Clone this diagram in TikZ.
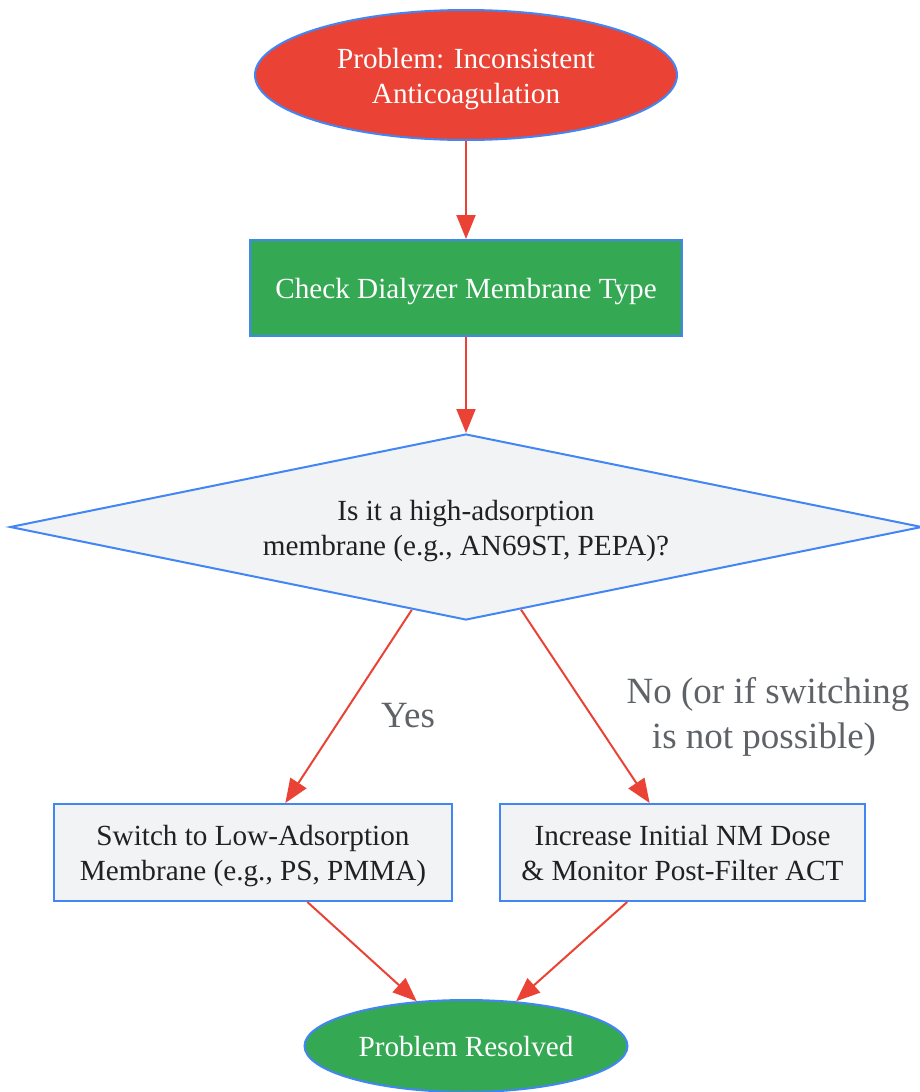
\documentclass[tikz,border=0pt]{standalone}
\usepackage{fontspec}
\setmainfont{Liberation Serif}
\usetikzlibrary{shapes.geometric,arrows.meta}
\definecolor{gred}{HTML}{EA4335}
\definecolor{ggreen}{HTML}{34A853}
\definecolor{gblue}{HTML}{4285F4}
\definecolor{ggray}{HTML}{F1F3F4}
\definecolor{gtext}{HTML}{202124}
\definecolor{glabel}{HTML}{5F6368}
\newcommand{\lowtext}[1]{\raisebox{-3.5pt}[\height][\depth]{\begin{tabular}{@{}c@{}}#1\end{tabular}}}
\begin{document}
\begin{tikzpicture}[x=1pt,y=-1pt,
  base/.style={draw=gblue,line width=2pt,inner sep=0pt,font=\fontsize{29.2}{35}\selectfont},
  startnode/.style={base,ellipse,fill=gred,text=white},
  procnode/.style={base,rectangle,fill=ggreen,text=white},
  decnode/.style={base,diamond,aspect=4.9,fill=ggray,text=gtext},
  actnode/.style={base,rectangle,fill=ggray,text=gtext},
  endnode/.style={base,ellipse,fill=ggreen,text=white},
  arr/.style={draw=gred,line width=2pt,-{Triangle[length=24pt,width=19pt]}},
  lbl/.style={text=glabel,align=center,font=\fontsize{37}{45}\selectfont}]
\useasboundingbox (0,0) rectangle (919,1092);
\node[startnode,minimum width=422pt,minimum height=130pt] (start) at (466,75) {\lowtext{Problem: Inconsistent\\Anticoagulation}};
\node[procnode,minimum width=432pt,minimum height=96pt] (check) at (466,288) {\lowtext{Check Dialyzer Membrane Type}};
\node[decnode,minimum width=912pt,minimum height=186pt] (dec) at (466,527) {\lowtext{Is it a high-adsorption\\membrane (e.g., AN69ST, PEPA)?}};
\node[actnode,minimum width=398pt,minimum height=97pt] (switch) at (253,852.5) {\lowtext{Switch to Low-Adsorption\\Membrane (e.g., PS, PMMA)}};
\node[actnode,minimum width=365pt,minimum height=97pt] (incr) at (682.5,852.5) {\lowtext{Increase Initial NM Dose\\\& Monitor Post-Filter ACT}};
\node[endnode,minimum width=323pt,minimum height=92pt] (res) at (466,1046) {\lowtext{Problem Resolved}};
\node[lbl] (yes) at (408,716) {Yes};
\node[lbl] (no) at (768,717) {No (or if switching\\is not possible)\hspace*{8pt}};
\draw[arr] (start) -- (check);
\draw[arr] (check) -- (dec);
\draw[arr] (dec) -- (switch);
\draw[arr] (dec) -- (incr);
\draw[arr] (switch) -- (res);
\draw[arr] (incr) -- (res);
\end{tikzpicture}
\end{document}
